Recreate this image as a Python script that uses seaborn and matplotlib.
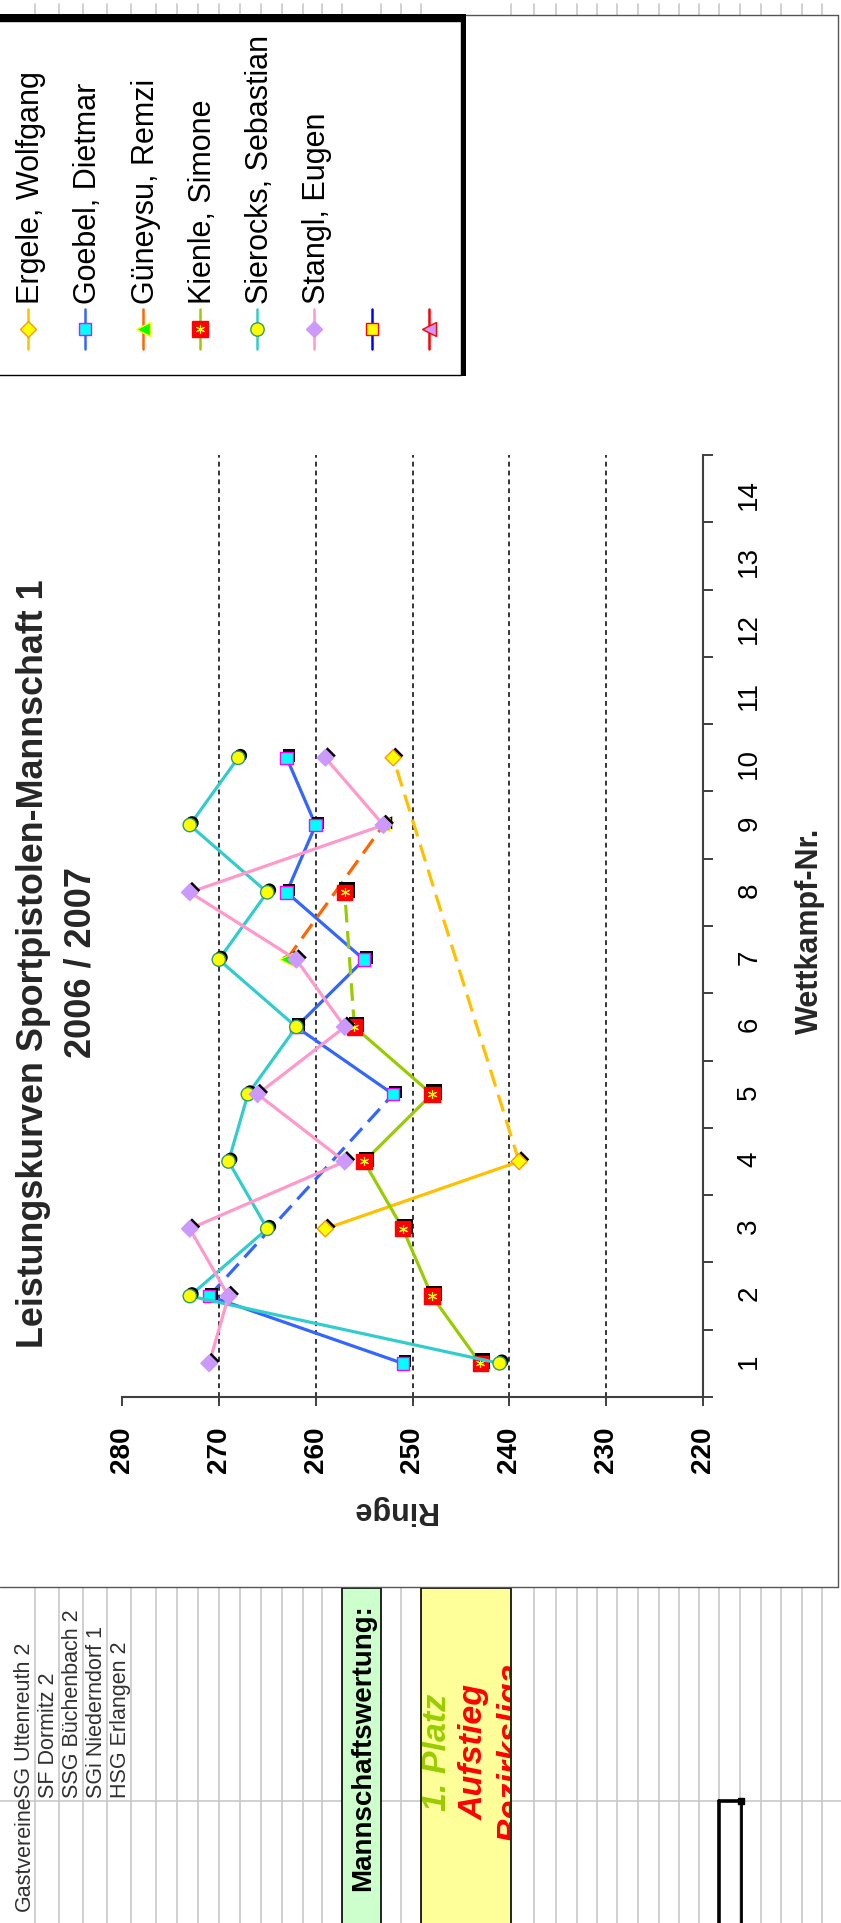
import numpy as np
import pandas as pd
import matplotlib
matplotlib.use("Agg")
import matplotlib.pyplot as plt
import matplotlib.patheffects as pe
from matplotlib.patches import Rectangle
from matplotlib.transforms import Bbox
import seaborn as sns

# ---------------- data ----------------
wettkampf_nr = list(range(1, 15))
N = np.nan
ergele   = [N, N, 259, 239, N, N, N, N, N, 252, N, N, N, N]
goebel   = [251, 271, N, N, 252, 262, 255, 263, 260, 263, N, N, N, N]
gueneysu = [N, N, N, N, N, N, 263, N, 253, N, N, N, N, N]
kienle   = [243, 248, 251, 255, 248, 256, N, 257, N, N, N, N, N, N]
sierocks = [241, 273, 265, 269, 267, 262, 270, 265, 273, 268, N, N, N, N]
stangl   = [271, 269, 273, 257, 266, 257, 262, 273, 253, 259, N, N, N, N]

series_names = ["Ergele, Wolfgang", "Goebel, Dietmar", "Güneysu, Remzi",
                "Kienle, Simone", "Sierocks, Sebastian", "Stangl, Eugen"]
series_values = [ergele, goebel, gueneysu, kienle, sierocks, stangl]
legend_names = series_names + ["", ""]

ringe_ticks = [280, 270, 260, 250, 240, 230, 220]
ringe_grid = [270, 260, 250, 240, 230]

title = "Leistungskurven Sportpistolen-Mannschaft 1"
subtitle = "2006 / 2007"
x_label = "Ringe"
y_label = "Wettkampf-Nr."
gast_header = "Gastvereine"
gastvereine = ["SG Uttenreuth 2", "SF Dormitz 2", "SSG Büchenbach 2",
               "SGi Niederndorf 1", "HSG Erlangen 2"]
team_label = "Mannschaftswertung:"
result_lines = ["1. Platz", "Aufstieg", "Bezirksliga"]
result_colors = ["#99CC00", "#FF0000", "#FF0000"]

# ---------------- styles ----------------
line_colors  = ['#FFC000', '#3366FF', '#FF6600', '#99CC00', '#33CCCC', '#FF99CC', '#0000FF', '#FF0000']
markers      = ['D', 's', '<', 's', 'o', 'D', 's', '<']
marker_faces = ['#FFFF00', '#00FFFF', '#00FF00', '#FF0000', '#FFFF00', '#CC99FF', '#FFFF00', '#CC99FF']
marker_edges = ['#FF9900', '#FF00FF', '#FFFF00', '#FF0000', '#339966', '#CC99FF', '#FF0000', '#FF0000']
marker_sizes = [8.2, 9.0, 9.5, 11.0, 9.6, 8.4, 9.0, 9.5]

# ---------------- tidy frames ----------------
rows, pts = [], []
for name, vals in zip(series_names, series_values):
    present = [(n, v) for n, v in zip(wettkampf_nr, vals) if not np.isnan(v)]
    for n, v in present:
        pts.append(dict(series=name, Nr=n, Ringe=v))
    for k in range(len(present) - 1):
        (n0, v0), (n1, v1) = present[k], present[k + 1]
        kind = "solid" if n1 - n0 == 1 else "gap"
        rows.append(dict(series=name, seg=k, kind=kind, Nr=n0, Ringe=v0))
        rows.append(dict(series=name, seg=k, kind=kind, Nr=n1, Ringe=v1))
seg_df = pd.DataFrame(rows)
pts_df = pd.DataFrame(pts)

# ---------------- figure ----------------
sns.set_theme(style="white")
plt.rcParams['font.family'] = ['Liberation Sans', 'DejaVu Sans']

W, H = 841, 1923
fig = plt.figure(figsize=(W / 100, H / 100), dpi=100)
fig.patch.set_facecolor('white')

bg = fig.add_axes([0, 0, 1, 1])
bg.set_xlim(0, W)
bg.set_ylim(H, 0)
bg.axis('off')
bg.set_zorder(0)

# spreadsheet grid (outside the chart object)
grid_x = [35, 59, 83, 107, 131, 156, 177, 198, 219, 240, 261, 282, 303, 322,
          401, 534, 556, 577, 597, 617, 638, 659, 679, 699, 719, 740, 761, 781, 802, 822]
box_x = [342, 381, 421, 511]
gcol = '#C8C8C8'
for gx in grid_x:
    bg.plot([gx, gx], [4, 15], color=gcol, lw=1.2, zorder=1)
    bg.plot([gx, gx], [1588, H], color=gcol, lw=1.2, zorder=1)
for gx in box_x:
    bg.plot([gx, gx], [4, 15], color=gcol, lw=1.2, zorder=1)
for x0, x1 in [(0, 342), (381, 421), (511, W)]:
    bg.plot([x0, x1], [1801, 1801], color=gcol, lw=1.2, zorder=1)

# coloured cells
bg.add_patch(Rectangle((342, 1588), 39, 340, facecolor='#CCFFCC', edgecolor='black', lw=1.2, zorder=2))
bg.add_patch(Rectangle((421, 1588), 90, 340, facecolor='#FFFF99', edgecolor='black', lw=1.2, zorder=2))
clip_box = Bbox.from_extents(422, 0, 510, H - 1589)   # display pixels of the yellow cell

# chart object border
bg.plot([0, 838], [15, 15], color='#555555', lw=1.0, zorder=3)
bg.plot([838, 838], [15, 1587], color='#555555', lw=1.0, zorder=3)
bg.plot([0, 838], [1587, 1587], color='#555555', lw=1.0, zorder=3)

# spreadsheet texts
bg.text(30, 1911, gast_header, rotation=90, rotation_mode='anchor', ha='left',
        va='baseline', fontsize=15.5, color='#303030', zorder=4)
for i, t in enumerate(gastvereine):
    bg.text(30 + 24 * i, 1798, t, rotation=90, rotation_mode='anchor', ha='left',
            va='baseline', fontsize=15.5, color='#303030', zorder=4)
bg.text(370, 1891, team_label, rotation=90, rotation_mode='anchor', ha='left',
        va='baseline', fontsize=20, fontweight='bold', color='black', zorder=4)
for i, (t, c) in enumerate(zip(result_lines, result_colors)):
    tx = bg.text(446 + 37 * i, 1752, t, rotation=90, rotation_mode='anchor', ha='center',
                 va='baseline', fontsize=24.5, fontweight='bold', fontstyle='italic',
                 color=c, zorder=4)
    tx.set_clip_box(clip_box)
    tx.set_clip_on(True)

# selection bracket
bg.plot([719, 719], [1801, H], color='black', lw=2.6, zorder=4)
bg.plot([719, 741], [1801, 1801], color='black', lw=2.6, zorder=4)
bg.plot([741, 741], [1801, H], color='black', lw=2.0, zorder=4)
bg.plot([741], [1801], marker='s', ms=4.5, color='black', zorder=5)

# legend box with shadow
bg.add_patch(Rectangle((-5, 14), 471, 362, facecolor='black', edgecolor='none', zorder=5))
bg.add_patch(Rectangle((-5, 21), 466, 354, facecolor='white', edgecolor='black', lw=1.0, zorder=6))
for i, name in enumerate(legend_names):
    cx = 28 + 57.3 * i
    bg.plot([cx, cx], [309, 349], color=line_colors[i], lw=1.8, zorder=7)
    bg.plot([cx], [329], marker=markers[i], ms=marker_sizes[i], mfc=marker_faces[i],
            mec=marker_edges[i], mew=1.0, ls='none', zorder=8)
    if i == 3:
        bg.plot([cx], [329], marker=(6, 2, 0), ms=6.5, mec='#FFFF00', mew=0.8, ls='none', zorder=9)
    if name:
        bg.text(cx + 11, 304, name, rotation=90, rotation_mode='anchor', ha='left',
                va='baseline', fontsize=22, color='black', zorder=9)

# titles and axis titles
bg.text(43, 964, title, rotation=90, rotation_mode='anchor', ha='center', va='baseline',
        fontsize=25.8, fontweight='bold', zorder=4)
bg.text(91, 962, subtitle, rotation=90, rotation_mode='anchor', ha='center', va='baseline',
        fontsize=26, fontweight='bold', zorder=4)
bg.text(818, 931, y_label, rotation=90, rotation_mode='anchor', ha='center', va='baseline',
        fontsize=22, fontweight='bold', zorder=4)
bg.text(394, 1510, x_label, rotation=180, rotation_mode='anchor', ha='center', va='center',
        fontsize=22, fontweight='bold', zorder=4)

# ---------------- plot area ----------------
ax = fig.add_axes([122 / W, 1 - 1397 / H, (703 - 122) / W, (1397 - 455) / H])
ax.set_zorder(2)
ax.patch.set_alpha(0)

for v in ringe_grid:
    ax.axvline(v, color='black', lw=1.1, ls=(0, (3.2, 2.6)), zorder=1)

shadow = [pe.SimplePatchShadow(offset=(1.6, 1.6), shadow_rgbFace='black', alpha=1.0), pe.Normal()]
for si, name in enumerate(series_names):
    z = 3 + 2 * si
    for kind, ls in [("solid", '-'), ("gap", (0, (5.5, 2.7)))]:
        d = seg_df[(seg_df.series == name) & (seg_df.kind == kind)]
        if len(d):
            sns.lineplot(data=d, x='Ringe', y='Nr', units='seg', estimator=None, sort=False,
                         color=line_colors[si], linewidth=2.3, linestyle=ls, ax=ax,
                         legend=False, zorder=z)
    p = pts_df[pts_df.series == name]
    sns.scatterplot(data=p, x='Ringe', y='Nr', marker=markers[si], s=marker_sizes[si] ** 2,
                    color=marker_faces[si], edgecolor=marker_edges[si], linewidth=1.0,
                    ax=ax, legend=False, zorder=z + 1)
    ax.collections[-1].set_path_effects(shadow)
    if si == 3:
        ax.plot(p['Ringe'], p['Nr'], ls='none', marker=(6, 2, 0), ms=6.5, mec='#FFFF00',
                mew=0.8, zorder=z + 1.5)

ax.set_xlim(280, 220)
ax.set_ylim(0.5, 14.5)
ax.set_xlabel('')
ax.set_ylabel('')
ax.grid(False)
for s in ['top', 'left']:
    ax.spines[s].set_visible(False)
for s in ['bottom', 'right']:
    ax.spines[s].set_visible(True)
    ax.spines[s].set_color('#404040')
    ax.spines[s].set_linewidth(1.5)

ax.set_xticks(ringe_ticks)
ax.set_xticklabels([str(t) for t in ringe_ticks], fontweight='bold')
ax.yaxis.tick_right()
ax.set_yticks(wettkampf_nr)
ax.set_yticklabels([str(n) for n in wettkampf_nr])
ax.set_yticks(np.arange(0.5, 14.6, 1.0), minor=True)
ax.tick_params(axis='x', which='major', bottom=True, length=6.5, width=1.4, color='#404040',
               direction='out', pad=15, labelrotation=90, labelsize=20, labelcolor='black')
ax.tick_params(axis='y', which='major', right=True, left=False, length=0, pad=24,
               labelrotation=90, labelsize=20, labelcolor='black')
ax.tick_params(axis='y', which='minor', right=True, left=False, length=7, width=1.4,
               color='#404040', direction='out')

fig.savefig('out.png', dpi=100, facecolor='white')
